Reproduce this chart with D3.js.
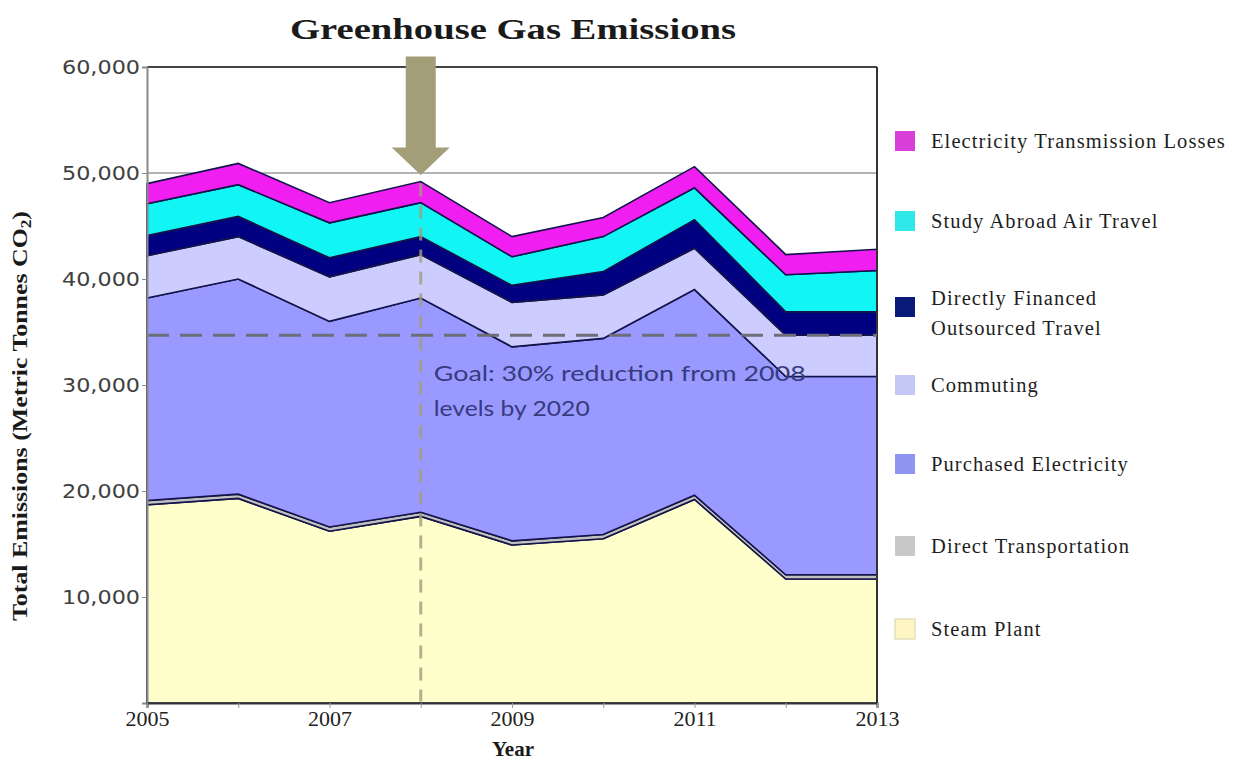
<!DOCTYPE html>
<html>
<head>
<meta charset="utf-8">
<script src="https://cdn.jsdelivr.net/npm/d3@7"></script>
<style>
  body { margin: 0; background: #fff; }
</style>
</head>
<body>
<div id="chart"></div>
<script>
// values (metric tonnes CO2)
let years = [2005, 2006, 2007, 2008, 2009, 2010, 2011, 2012, 2013];
let steamPlant = [18700, 19300, 16200, 17600, 14900, 15500, 19200, 11700, 11700];
let directTransportation = [400, 400, 400, 400, 400, 400, 400, 400, 400];
let purchasedElectricity = [19100, 20300, 19400, 20200, 18300, 18500, 19400, 18700, 18700];
let commuting = [4000, 4000, 4200, 4100, 4200, 4100, 3900, 3900, 3900];
let financedTravel = [1900, 1900, 1800, 1700, 1600, 2200, 2700, 2200, 2200];
let studyAbroad = [3000, 3000, 3300, 3200, 2700, 3300, 3000, 3500, 3900];
let transmissionLosses = [1900, 2000, 1900, 2000, 1900, 1800, 2000, 1900, 2000];

let seriesNames = ['Steam Plant', 'Direct Transportation', 'Purchased Electricity', 'Commuting',
  'Directly Financed Outsourced Travel', 'Study Abroad Air Travel', 'Electricity Transmission Losses'];
let yTicks = [10000, 20000, 30000, 40000, 50000, 60000];
let xTickLabels = [2005, 2007, 2009, 2011, 2013];
let goalValue = 34700;
let goalText = ['Goal: 30% reduction from 2008', 'levels by 2020'];

let colors = ['#ffffcc', '#c0c0c0', '#9999ff', '#ccccff', '#000080', '#11f5f5', '#f01ef0'];
let legendColors = ['#fdf6c4', '#c8c8c8', '#8e95f0', '#c4c8f4', '#0a1a78', '#30e8e8', '#d83ed8'];

let rows = years.map((y, i) => ({
  year: y,
  'Steam Plant': steamPlant[i],
  'Direct Transportation': directTransportation[i],
  'Purchased Electricity': purchasedElectricity[i],
  'Commuting': commuting[i],
  'Directly Financed Outsourced Travel': financedTravel[i],
  'Study Abroad Air Travel': studyAbroad[i],
  'Electricity Transmission Losses': transmissionLosses[i]
}));

let width = 1240, height = 763;
let plotLeft = 147, plotRight = 877, plotTop = 67, plotBottom = 703;

let svg = d3.select('#chart').append('svg')
  .attr('width', width)
  .attr('height', height)
  .style('display', 'block');

let xScale = d3.scaleLinear().domain([2005, 2013]).range([plotLeft, plotRight]);
let yScale = d3.scaleLinear().domain([0, 60000]).range([plotBottom, plotTop]);

let stacked = d3.stack().keys(seriesNames)(rows);

let area = d3.area()
  .x(d => xScale(d.data.year))
  .y0(d => yScale(d[0]))
  .y1(d => yScale(d[1]));

// gridline at 50,000
svg.append('line')
  .attr('x1', plotLeft).attr('x2', plotRight)
  .attr('y1', yScale(50000)).attr('y2', yScale(50000))
  .attr('stroke', '#9a9a9a').attr('stroke-width', 1.5);

svg.selectAll('path.band')
  .data(stacked)
  .enter().append('path')
  .attr('class', 'band')
  .attr('d', area)
  .attr('fill', (_, i) => colors[i])
  .attr('stroke', '#14144a')
  .attr('stroke-width', 1.6)
  .attr('stroke-linejoin', 'miter');

// frame: top and right edges
svg.append('line')
  .attr('x1', plotLeft).attr('x2', plotRight)
  .attr('y1', yScale(60000)).attr('y2', yScale(60000))
  .attr('stroke', '#444').attr('stroke-width', 2);
svg.append('line')
  .attr('x1', plotRight).attr('x2', plotRight)
  .attr('y1', yScale(60000)).attr('y2', yScale(0))
  .attr('stroke', '#333').attr('stroke-width', 2);

// goal line
svg.append('line')
  .attr('x1', plotLeft).attr('x2', plotRight)
  .attr('y1', yScale(goalValue)).attr('y2', yScale(goalValue))
  .attr('stroke', '#6e6e78').attr('stroke-width', 3)
  .attr('stroke-dasharray', '22,11');

// 2008 marker: dashed vertical line and arrow
let x08 = xScale(2008);
svg.append('line')
  .attr('x1', x08).attr('x2', x08)
  .attr('y1', yScale(49000)).attr('y2', yScale(150))
  .attr('stroke', '#a39d7a').attr('stroke-width', 3)
  .attr('stroke-opacity', 0.8)
  .attr('stroke-dasharray', '13,9');

let shaftTop = yScale(61000), headTop = yScale(52400), tip = yScale(49800);
svg.append('path')
  .attr('d', `M${x08 - 15},${shaftTop} L${x08 + 15},${shaftTop} L${x08 + 15},${headTop} L${x08 + 29},${headTop}
    L${x08},${tip} L${x08 - 29},${headTop} L${x08 - 15},${headTop} Z`)
  .attr('fill', '#a39e78');

// goal annotation
let goalLengths = [372, 156];
svg.selectAll('text.goal')
  .data(goalText)
  .enter().append('text')
  .attr('class', 'goal')
  .attr('x', x08 + 13)
  .attr('y', (_, i) => yScale(goalValue) + 46 + i * 35)
  .attr('font-family', 'Lato, "Open Sans", sans-serif')
  .attr('font-size', 22)
  .attr('fill', '#373b7e')
  .attr('textLength', (_, i) => goalLengths[i])
  .attr('lengthAdjust', 'spacingAndGlyphs')
  .text(d => d);

// y axis
let yAxis = d3.axisLeft(yScale)
  .tickValues(yTicks)
  .tickSize(5)
  .tickFormat(d3.format(','));
let gy = svg.append('g')
  .attr('transform', `translate(${plotLeft}, 0)`)
  .call(yAxis);
gy.select('.domain').attr('stroke', '#8a8a8a').attr('stroke-width', 2);
gy.selectAll('.tick line').attr('stroke', '#8a8a8a');
gy.selectAll('.tick text')
  .attr('font-family', '"DejaVu Sans", Verdana, sans-serif')
  .attr('font-size', 19)
  .attr('fill', '#404040')
  .attr('textLength', 78)
  .attr('lengthAdjust', 'spacingAndGlyphs')
  .attr('x', -7);

// x axis
let xAxis = d3.axisBottom(xScale)
  .tickValues(years)
  .tickSize(5)
  .tickFormat(d => xTickLabels.includes(d) ? d : '');
let gx = svg.append('g')
  .attr('transform', `translate(0, ${plotBottom})`)
  .call(xAxis);
gx.select('.domain').attr('stroke', '#333').attr('stroke-width', 2);
gx.selectAll('.tick line').attr('stroke', '#999');
gx.selectAll('.tick text')
  .attr('font-family', '"Liberation Serif", "Times New Roman", serif')
  .attr('font-size', 22)
  .attr('fill', '#222')
  .attr('y', 7);

// titles
svg.append('text')
  .attr('x', 513).attr('y', 39)
  .attr('text-anchor', 'middle')
  .attr('font-family', '"Liberation Serif", "Times New Roman", serif')
  .attr('font-weight', 'bold')
  .attr('font-size', 30)
  .attr('fill', '#1a1a1a')
  .attr('textLength', 446)
  .attr('lengthAdjust', 'spacingAndGlyphs')
  .text('Greenhouse Gas Emissions');

svg.append('text')
  .attr('x', 513).attr('y', 756)
  .attr('text-anchor', 'middle')
  .attr('font-family', '"Liberation Serif", "Times New Roman", serif')
  .attr('font-weight', 'bold')
  .attr('font-size', 21)
  .attr('fill', '#1a1a1a')
  .text('Year');

let yTitle = svg.append('text')
  .attr('transform', 'translate(27, 416) rotate(-90)')
  .attr('text-anchor', 'middle')
  .attr('font-family', '"Liberation Serif", "Times New Roman", serif')
  .attr('font-weight', 'bold')
  .attr('font-size', 21)
  .attr('fill', '#1a1a1a')
  .attr('textLength', 410)
  .attr('lengthAdjust', 'spacingAndGlyphs');
yTitle.append('tspan').text('Total Emissions (Metric Tonnes CO');
yTitle.append('tspan').attr('font-size', 14).attr('dy', 4).text('2');
yTitle.append('tspan').attr('dy', -4).text(')');

// legend, top entry first
let legendRows = [
  { i: 6, y: 141, lines: ['Electricity Transmission Losses'] },
  { i: 5, y: 221, lines: ['Study Abroad Air Travel'] },
  { i: 4, y: 298, lines: ['Directly Financed', 'Outsourced Travel'] },
  { i: 3, y: 385, lines: ['Commuting'] },
  { i: 2, y: 464, lines: ['Purchased Electricity'] },
  { i: 1, y: 546, lines: ['Direct Transportation'] },
  { i: 0, y: 629, lines: ['Steam Plant'] }
];

let legend = svg.append('g');
let items = legend.selectAll('g')
  .data(legendRows)
  .enter().append('g')
  .attr('transform', d => `translate(895, ${d.y})`);

items.append('rect')
  .attr('x', 0).attr('y', d => d.lines.length > 1 ? -1 : -10)
  .attr('width', 20).attr('height', 20)
  .attr('fill', d => legendColors[d.i])
  .attr('stroke', d => d.i === 0 ? '#d8d2a8' : 'none');

items.append('text')
  .attr('font-family', '"Liberation Serif", "Times New Roman", serif')
  .attr('font-size', 20.5)
  .attr('letter-spacing', 1.1)
  .attr('fill', '#1e1e1e')
  .selectAll('tspan')
  .data(d => d.lines)
  .enter().append('tspan')
  .attr('x', 36)
  .attr('y', (_, j) => 7 + j * 30)
  .text(d => d);
</script>
</body>
</html>
